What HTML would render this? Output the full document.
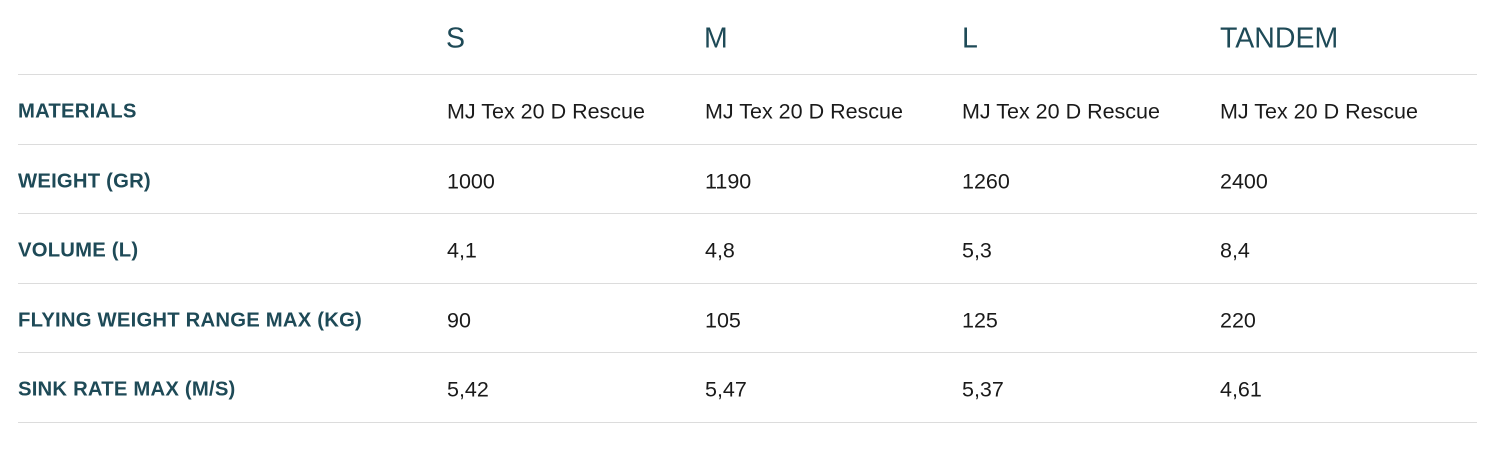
<!DOCTYPE html>
<html><head><meta charset="utf-8"><style>
body{margin:0;width:1500px;height:449px;background:#fff;position:relative;font-family:"Liberation Sans",sans-serif;overflow:hidden}
.l{position:absolute;left:18px;width:1459px;height:1px;background:#dcdcdc}
.t{position:absolute;white-space:nowrap;transform:translateY(-50%)}
.h{font-size:28.5px;color:#1e4a57}
.k{font-size:20.3px;font-weight:bold;color:#1e4a57;letter-spacing:0.2px}
.v{font-size:21.5px;color:#1a1a1a}
</style></head><body>
<div class="l" style="top:74px"></div>
<div class="l" style="top:144px"></div>
<div class="l" style="top:213px"></div>
<div class="l" style="top:283px"></div>
<div class="l" style="top:352px"></div>
<div class="l" style="top:422px"></div>
<div class="t h" style="left:446px;top:39px">S</div>
<div class="t h" style="left:704px;top:39px">M</div>
<div class="t h" style="left:962px;top:39px">L</div>
<div class="t h" style="left:1220px;top:39px">TANDEM</div>

<div class="t k" style="left:18px;top:112px">MATERIALS</div>
<div class="t v" style="left:447px;top:112px">MJ Tex 20 D Rescue</div>
<div class="t v" style="left:705px;top:112px">MJ Tex 20 D Rescue</div>
<div class="t v" style="left:962px;top:112px">MJ Tex 20 D Rescue</div>
<div class="t v" style="left:1220px;top:112px">MJ Tex 20 D Rescue</div>

<div class="t k" style="left:18px;top:182px">WEIGHT (GR)</div>
<div class="t v" style="left:447px;top:182px">1000</div>
<div class="t v" style="left:705px;top:182px">1190</div>
<div class="t v" style="left:962px;top:182px">1260</div>
<div class="t v" style="left:1220px;top:182px">2400</div>

<div class="t k" style="left:18px;top:251px">VOLUME (L)</div>
<div class="t v" style="left:447px;top:251px">4,1</div>
<div class="t v" style="left:705px;top:251px">4,8</div>
<div class="t v" style="left:962px;top:251px">5,3</div>
<div class="t v" style="left:1220px;top:251px">8,4</div>

<div class="t k" style="left:18px;top:321px">FLYING WEIGHT RANGE MAX (KG)</div>
<div class="t v" style="left:447px;top:321px">90</div>
<div class="t v" style="left:705px;top:321px">105</div>
<div class="t v" style="left:962px;top:321px">125</div>
<div class="t v" style="left:1220px;top:321px">220</div>

<div class="t k" style="left:18px;top:390px">SINK RATE MAX (M/S)</div>
<div class="t v" style="left:447px;top:390px">5,42</div>
<div class="t v" style="left:705px;top:390px">5,47</div>
<div class="t v" style="left:962px;top:390px">5,37</div>
<div class="t v" style="left:1220px;top:390px">4,61</div>
</body></html>
